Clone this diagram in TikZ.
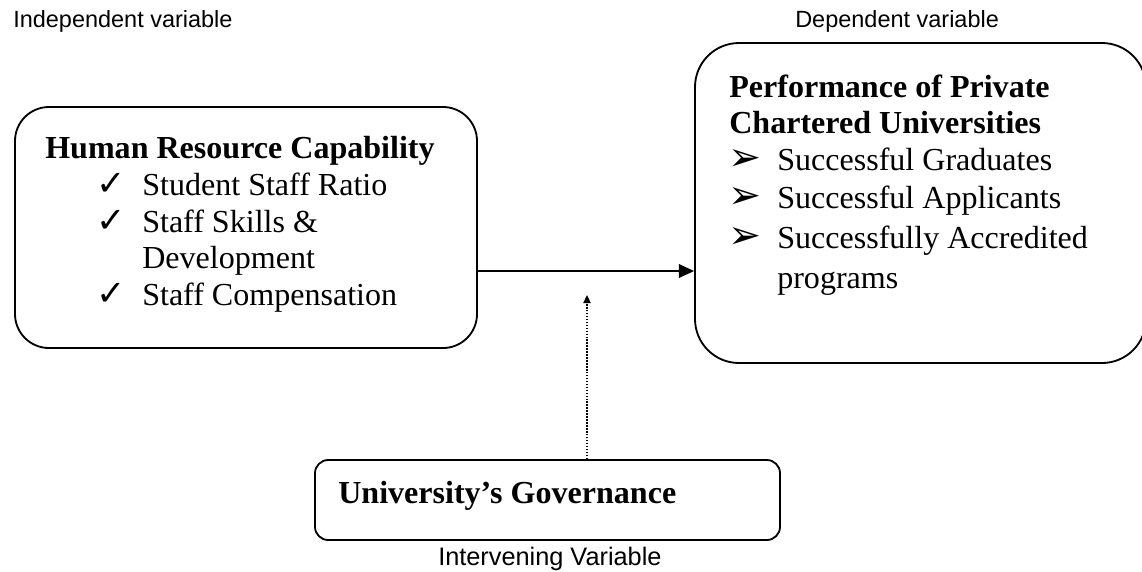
\documentclass[tikz,border=0pt]{standalone}
\usepackage{fontspec}
\setmainfont{Liberation Serif}
\newfontfamily\labelfont{Liberation Sans}
\newfontfamily\symbolfont{DejaVu Sans}
\usetikzlibrary{arrows.meta,positioning}

\begin{document}
\begin{tikzpicture}[
    box/.style={rectangle, draw, line width=1.3pt, inner sep=0pt},
    heading/.style={anchor=base west, inner sep=0pt, font=\fontsize{22.8}{26}\selectfont\bfseries},
    entry/.style={anchor=base west, inner sep=0pt, font=\fontsize{22.8}{26}\selectfont},
    tick/.style={anchor=base west, inner sep=0pt, font=\symbolfont\fontsize{25}{28}\selectfont},
    pointer/.style={anchor=base west, inner sep=0pt, font=\symbolfont\fontsize{28}{30}\selectfont},
    varlabel/.style={anchor=base west, inner sep=0pt, font=\labelfont\fontsize{16.7}{20}\selectfont},
    arrow/.style={-{Triangle[length=0.38cm,width=0.34cm]}, line width=1.3pt},
    modarrow/.style={-{Triangle[length=0.2cm,width=0.18cm]}, line width=1.1pt, densely dotted}]

\clip (0,0) rectangle (28.55,-14.275);

% Boxes
\node[box, rounded corners=0.85cm, minimum width=11.55cm, minimum height=6.025cm] (hrc) at (6.15,-5.6875) {};
\node[box, rounded corners=1.1cm, minimum width=11.275cm, minimum height=8cm] (perf) at (23.0125,-5.075) {};
\node[box, rounded corners=0.33cm, minimum width=11.625cm, minimum height=2cm] (gov) at (13.6875,-12.5) {};

% Variable labels
\node[varlabel] (indep) at (0.325,-0.675) {Independent variable};
\node[varlabel] (dep) at (19.875,-0.675) {Dependent variable};
\node[varlabel, font=\labelfont\fontsize{18}{22}\selectfont] (interv) at (10.95,-14.125) {Intervening Variable};

% Independent variable
\node[heading] (hrc-title) at (1.125,-3.95) {Human Resource Capability};
\node[tick] (hrc-t1) at (2.4,-4.875) {✓};
\node[entry] (hrc-1) at (3.55,-4.875) {Student Staff Ratio};
\node[tick] (hrc-t2) at (2.4,-5.8) {✓};
\node[entry] (hrc-2) at (3.55,-5.8) {Staff Skills \&};
\node[entry] (hrc-2b) at (3.55,-6.7) {Development};
\node[tick] (hrc-t3) at (2.4,-7.625) {✓};
\node[entry] (hrc-3) at (3.55,-7.625) {Staff Compensation};

% Dependent variable
\node[heading] (perf-title) at (18.225,-2.425) {Performance of Private};
\node[heading] (perf-title2) at (18.225,-3.325) {Chartered Universities};
\node[pointer] (perf-t1) at (18.2,-4.25) {➢};
\node[entry] (perf-1) at (19.425,-4.25) {Successful Graduates};
\node[pointer] (perf-t2) at (18.2,-5.2) {➢};
\node[entry] (perf-2) at (19.425,-5.2) {Successful Applicants};
\node[pointer] (perf-t3) at (18.2,-6.2) {➢};
\node[entry] (perf-3) at (19.425,-6.2) {Successfully Accredited};
\node[entry] (perf-3b) at (19.425,-7.2) {programs};

% Intervening variable
\node[heading] (gov-title) at (8.45,-12.575) {University’s Governance};

% Arrows
\coordinate (link) at (0,-6.775);
\coordinate (modtip) at (14.675,-7.375);
\draw[arrow] (hrc.east |- link) -- (perf.west |- link);
\draw[modarrow] (gov.north -| modtip) -- (modtip);
\end{tikzpicture}
\end{document}
